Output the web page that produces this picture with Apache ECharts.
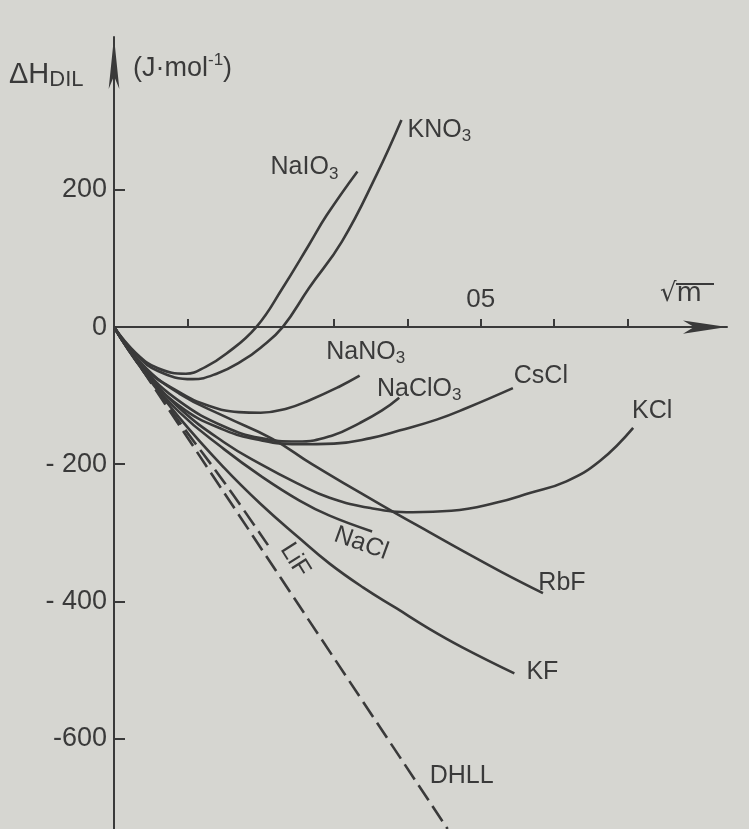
<!DOCTYPE html>
<html>
<head>
<meta charset="utf-8">
<title>ΔH DIL</title>
<script src="https://cdn.jsdelivr.net/npm/echarts@6.0.0/dist/echarts.min.js"></script>
<style>
  html, body { margin: 0; padding: 0; background: #d6d6d1; }
  #chart { width: 749px; height: 829px; }
</style>
</head>
<body>
<div id="chart"></div>
<script>
  // [√m, ΔH_DIL in J/mol]
  var naio3 = [[0, 0], [0.03, -38], [0.06, -60], [0.098, -68], [0.125, -58], [0.153, -39], [0.194, 0], [0.23, 57], [0.266, 120], [0.29, 163], [0.332, 227]];
  var kno3 = [[0, 0], [0.03, -40], [0.06, -64], [0.107, -76], [0.14, -68], [0.175, -49], [0.2, -30], [0.23, 0], [0.266, 57], [0.311, 125], [0.358, 222], [0.392, 302]];
  var nano3 = [[0, 0], [0.04, -58], [0.089, -95], [0.13, -115], [0.17, -124], [0.2, -125], [0.235, -119], [0.266, -107], [0.307, -87], [0.335, -71]];
  var naclo3 = [[0, 0], [0.04, -60], [0.089, -108], [0.15, -145], [0.2, -162], [0.25, -167], [0.298, -158], [0.335, -140], [0.365, -122], [0.389, -103]];
  var cscl = [[0, 0], [0.04, -62], [0.089, -115], [0.15, -150], [0.2, -165], [0.25, -171], [0.3, -170], [0.35, -162], [0.389, -151], [0.44, -135], [0.481, -118], [0.544, -89]];
  var kcl = [[0, 0], [0.04, -62], [0.089, -118], [0.15, -168], [0.2, -200], [0.25, -228], [0.294, -249], [0.35, -264], [0.407, -270], [0.46, -268], [0.522, -256], [0.567, -242], [0.617, -225], [0.663, -195], [0.708, -147]];
  var rbf = [[0, 0], [0.04, -56], [0.089, -97], [0.15, -130], [0.216, -163], [0.27, -200], [0.335, -241], [0.385, -272], [0.43, -299], [0.475, -326], [0.53, -358], [0.585, -388]];
  var nacl = [[0, 0], [0.04, -64], [0.089, -124], [0.15, -178], [0.2, -217], [0.253, -253], [0.294, -275], [0.352, -298]];
  var kf = [[0, 0], [0.04, -64], [0.089, -132], [0.15, -205], [0.2, -258], [0.253, -308], [0.294, -345], [0.34, -380], [0.385, -410], [0.43, -440], [0.475, -467], [0.546, -505]];
  var lif = [[0, 0], [0.04, -64], [0.089, -138], [0.15, -226], [0.21, -318]];
  var dhll = [[0, 0], [0.455, -732]];

  var xTicks = [0.1, 0.3, 0.4, 0.5, 0.6, 0.7];
  var xTickText = ['05'];
  var xTickLabelAt = [0.5];
  var yTicks = [-600, -400, -200, 200];
  var yLabelAt = [-600, -400, -200, 0, 200];
  var yTickText = ['-600', '- 400', '- 200', '0', '200'];

  var INK = '#3a3a3a';
  var FONT = 'Liberation Sans';
  var RICH = {
    n: { fontFamily: FONT, fontSize: 25, color: INK, lineHeight: 30 },
    s: { fontFamily: FONT, fontSize: 17, color: INK, lineHeight: 14, verticalAlign: 'bottom' }
  };

  function curve(name, data, text, offset, rotate, dashed) {
    return {
      name: name,
      type: 'line',
      data: data,
      showSymbol: false,
      smooth: 0.45,
      silent: true,
      lineStyle: { color: INK, width: 2.6, type: dashed ? [18, 7] : 'solid' },
      markPoint: {
        symbol: 'circle',
        symbolSize: 1,
        itemStyle: { color: 'rgba(0,0,0,0)' },
        silent: true,
        data: [{ coord: data[data.length - 1] }],
        label: {
          show: true,
          position: 'inside',
          offset: offset,       // offset is turned with the text
          rotate: rotate || 0,
          color: INK,
          formatter: text,
          rich: RICH
        }
      }
    };
  }

  var myChart = echarts.init(document.getElementById('chart'));
  var graphics = [
    { type: 'text', left: 9, top: 60, style: { text: '{d|ΔH}{s|DIL}', rich: {
      d: { fontFamily: FONT, fontSize: 29, fill: INK, lineHeight: 32 },
      s: { fontFamily: FONT, fontSize: 22, fill: INK, lineHeight: 20, verticalAlign: 'bottom' }
    } } },
    { type: 'text', left: 133, top: 52, style: { text: '{a|(J·mol}{u|-1}{a|)}', rich: {
      a: { fontFamily: FONT, fontSize: 27, fill: INK, lineHeight: 34 },
      u: { fontFamily: FONT, fontSize: 17, fill: INK, lineHeight: 34, verticalAlign: 'top' }
    } } },
    { type: 'text', left: 660, top: 281, style: { text: '√m', fontFamily: 'DejaVu Sans', fontSize: 26, fill: INK } },
    { type: 'line', shape: { x1: 676, y1: 284, x2: 714, y2: 284 }, style: { stroke: INK, lineWidth: 2 } }
  ];

  var option = {
    animation: false,
    backgroundColor: '#d6d6d1',
    grid: { left: 114, right: 22, top: 37, bottom: 0, containLabel: false, outerBoundsMode: 'none' },
    xAxis: {
      type: 'value',
      position: 'top',
      min: 0,
      max: 0.836,
      splitLine: { show: false },
      axisLine: { onZero: true, symbol: ['none', 'arrow'], symbolSize: [10, 44], lineStyle: { color: INK, width: 2 } },
      axisTick: { show: true, inside: false, length: 8, customValues: xTicks, lineStyle: { color: INK, width: 2 } },
      axisLabel: { show: false }
    },
    yAxis: {
      type: 'value',
      min: -732,
      max: 423,
      splitLine: { show: false },
      axisLine: { symbol: ['none', 'arrow'], symbolSize: [8, 52], lineStyle: { color: INK, width: 2 } },
      axisTick: { show: true, inside: true, length: 11, customValues: yTicks, lineStyle: { color: INK, width: 2 } },
      axisLabel: {
        margin: 7,
        customValues: yLabelAt,
        formatter: function (v) { return yTickText[yLabelAt.indexOf(v)]; },
        color: INK, fontFamily: FONT, fontSize: 27
      }
    },
    graphic: graphics,
    series: [
      curve('NaIO3', naio3, '{n|NaIO}{s|3}', [-53, -4]),
      curve('KNO3', kno3, '{n|KNO}{s|3}', [38, 10]),
      curve('NaNO3', nano3, '{n|NaNO}{s|3}', [6, -24]),
      curve('NaClO3', naclo3, '{n|NaClO}{s|3}', [20, -9]),
      curve('CsCl', cscl, '{n|CsCl}', [28, -12]),
      curve('KCl', kcl, '{n|KCl}', [19, -17]),
      curve('RbF', rbf, '{n|RbF}', [19, -10]),
      curve('NaCl', nacl, '{n|NaCl}', [-6, 15], -20),
      curve('KF', kf, '{n|KF}', [28, -1]),
      curve('LiF', lif, '{n|LiF}', [27, -15], -58, true),
      curve('DHLL', dhll, '{n|DHLL}', [14, -53], 0, true)
    ]
  };
  myChart.setOption(option);

  // the x tick label sits on the zero line, above the axis
  xTickLabelAt.forEach(function (v, i) {
    var p = myChart.convertToPixel({ gridIndex: 0 }, [v, 0]);
    graphics.push({
      type: 'text', x: p[0], y: p[1] - 14,
      style: { text: xTickText[i], align: 'center', verticalAlign: 'bottom', fontFamily: FONT, fontSize: 26, fill: INK }
    });
  });
  myChart.setOption({ graphic: graphics });
</script>
</body>
</html>
